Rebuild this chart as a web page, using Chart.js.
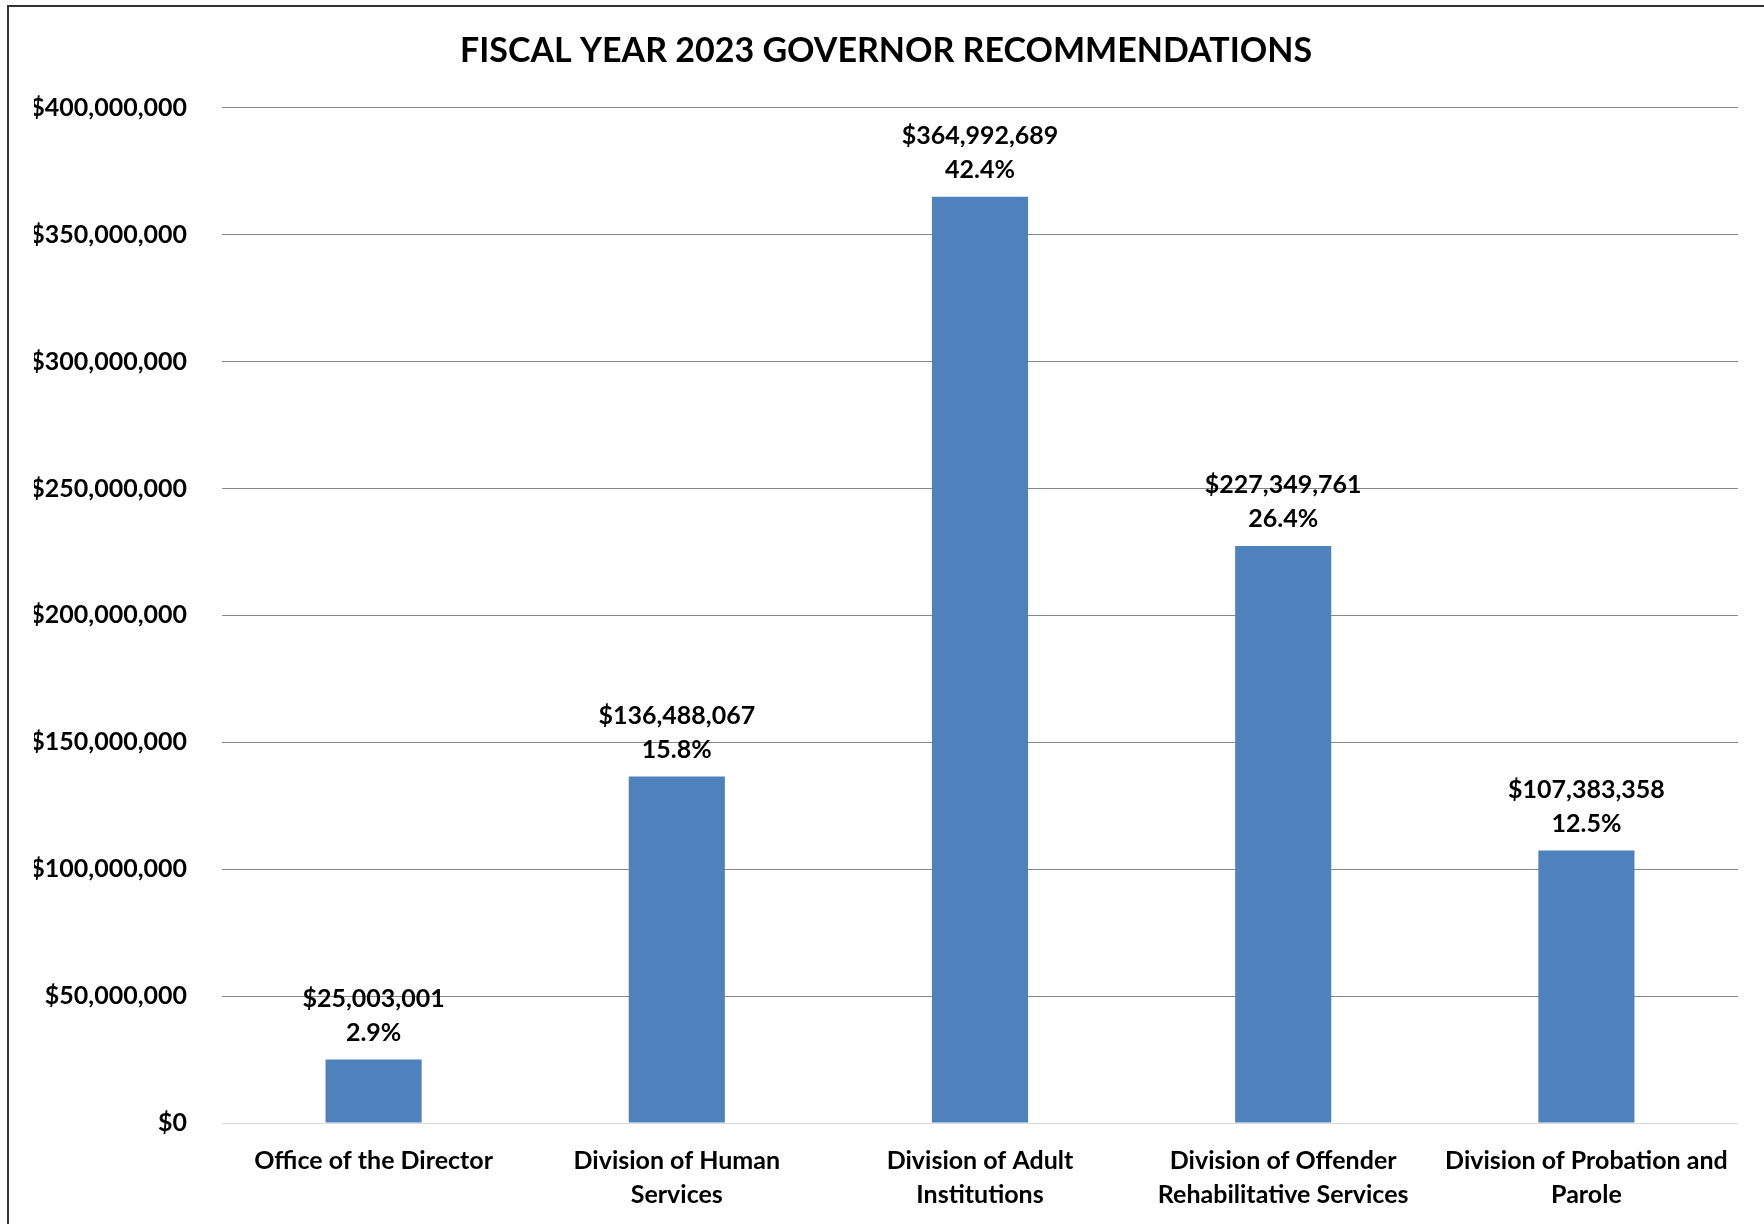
<!DOCTYPE html>
<html>
<head>
<meta charset="utf-8">
<title>Fiscal Year 2023 Governor Recommendations</title>
<script src="https://cdn.jsdelivr.net/npm/chart.js@4.4.0/dist/chart.umd.min.js"></script>
<style>
  html, body { margin: 0; padding: 0; background: #fff; overflow: hidden; }
  #chartCanvas { display: block; }
</style>
</head>
<body>
<canvas id="chartCanvas" width="1764" height="1224"></canvas>
<script>
// chart data
var divisions = [
    ['Office of the Director'],
    ['Division of Human', 'Services'],
    ['Division of Adult', 'Institutions'],
    ['Division of Offender', 'Rehabilitative Services'],
    ['Division of Probation and', 'Parole']
];
var amounts = [25003001, 136488067, 364992689, 227349761, 107383358];
var shares = ['2.9%', '15.8%', '42.4%', '26.4%', '12.5%'];

var chartTitle = 'FISCAL YEAR 2023 GOVERNOR RECOMMENDATIONS';
var fontName = 'Lato, "Open Sans", sans-serif';

function dollars(v) {
    return '$' + Math.round(v).toLocaleString('en-US');
}

// outline round the chart (only left and top edges are in view)
var framePlugin = {
    id: 'frame',
    beforeDraw: function(chart) {
        var ctx = chart.ctx;
        ctx.save();
        ctx.fillStyle = '#ffffff';
        ctx.fillRect(0, 0, chart.width, chart.height);
        ctx.strokeStyle = '#333333';
        ctx.lineWidth = 2;
        ctx.beginPath();
        ctx.moveTo(8, chart.height);
        ctx.lineTo(8, 6);
        ctx.lineTo(chart.width, 6);
        ctx.stroke();
        ctx.restore();
    }
};

// value + share labels above each bar
var barLabels = {
    id: 'barLabels',
    afterDatasetsDraw: function(chart) {
        var ctx = chart.ctx;
        var meta = chart.getDatasetMeta(0);
        ctx.save();
        ctx.font = 'bold 25px ' + fontName;
        ctx.fillStyle = '#000';
        ctx.textAlign = 'center';
        ctx.textBaseline = 'middle';
        meta.data.forEach(function(bar, i) {
            ctx.fillText(dollars(amounts[i]), bar.x, bar.y - 61);
            ctx.fillText(shares[i], bar.x, bar.y - 27);
        });
        ctx.restore();
    }
};

var ctx = document.getElementById('chartCanvas').getContext('2d');
var budgetChart = new Chart(ctx, {
    type: 'bar',
    data: {
        labels: divisions,
        datasets: [{
            data: amounts,
            backgroundColor: '#4f81bd',
            borderWidth: 0,
            barPercentage: 0.317,
            categoryPercentage: 1
        }]
    },
    options: {
        responsive: false,
        animation: false,
        layout: { padding: { left: 34, right: 26, top: 0, bottom: 0 } },
        plugins: {
            legend: { display: false },
            tooltip: { enabled: false },
            title: {
                display: true,
                text: chartTitle,
                color: '#000',
                font: { family: fontName, size: 34, weight: 'bold' },
                padding: { top: 31, bottom: 36 }
            }
        },
        scales: {
            x: {
                grid: { display: false },
                border: { display: false },
                ticks: {
                    color: '#000',
                    font: { family: fontName, size: 25, weight: 'bold', lineHeight: 1.36 },
                    padding: 13,
                    maxRotation: 0,
                    autoSkip: false
                },
                afterFit: function(axis) { axis.height = 101; }
            },
            y: {
                min: 0,
                max: 400000000,
                border: { display: false },
                grid: {
                    drawTicks: false,
                    lineWidth: 1,
                    color: function(c) {
                        return c.tick && c.tick.value === 0 ? '#d9d9d9' : '#888888';
                    }
                },
                ticks: {
                    stepSize: 50000000,
                    color: '#000',
                    padding: 35,
                    font: { family: fontName, size: 25, weight: 'bold' },
                    callback: function(v) { return dollars(v); }
                },
                afterFit: function(axis) { axis.width = 188; }
            }
        }
    },
    plugins: [framePlugin, barLabels]
});
</script>
</body>
</html>
